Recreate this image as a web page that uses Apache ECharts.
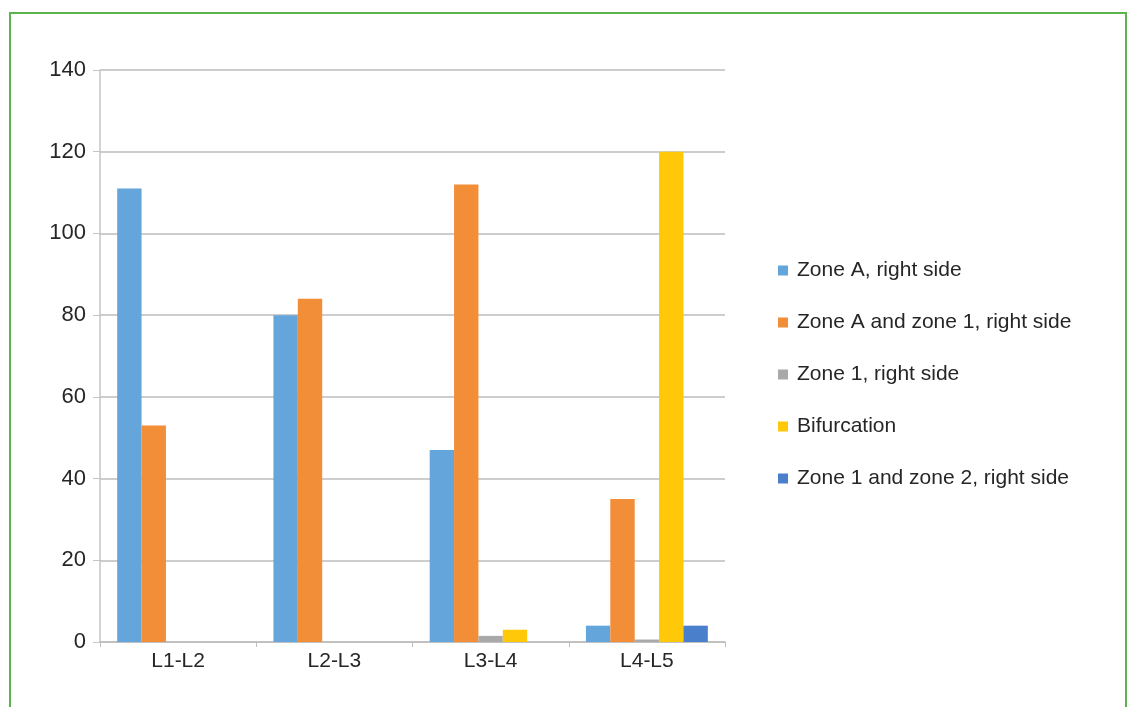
<!DOCTYPE html>
<html>
<head>
<meta charset="utf-8">
<script src="https://cdn.jsdelivr.net/npm/echarts@6/dist/echarts.min.js"></script>
<style>
html,body{margin:0;padding:0;background:#fff;}
#wrap{position:relative;width:1130px;height:707px;overflow:hidden;}
#border{position:absolute;left:9px;top:12px;width:1118px;height:720px;border:2px solid #5cb54c;box-sizing:border-box;}
#chart{position:absolute;left:0;top:0;width:1130px;height:707px;}
</style>
</head>
<body>
<div id="wrap">
<div id="border"></div>
<div id="chart"></div>
</div>
<script>
const categories = ['L1-L2', 'L2-L3', 'L3-L4', 'L4-L5'];
const seriesNames = ['Zone A, right side', 'Zone A and zone 1, right side', 'Zone 1, right side', 'Bifurcation', 'Zone 1 and zone 2, right side'];
const zoneA = [111, 80, 47, 4];
const zoneAand1 = [53, 84, 112, 35];
const zone1 = [0, 0, 1.5, 0.6];
const bifurcation = [0, 0, 3, 120];
const zone1and2 = [0, 0, 0, 4];
const colors = ['#64a6dc', '#f28d38', '#a9a9a9', '#ffc808', '#4a7fcc'];

const seriesData = [zoneA, zoneAand1, zone1, bifurcation, zone1and2];
const font = '"Liberation Sans", Arial, sans-serif';

const chart = echarts.init(document.getElementById('chart'), null, {renderer: 'canvas'});
chart.setOption({
  animation: false,
  backgroundColor: 'transparent',
  color: colors,
  grid: {left: 100, right: 405, top: 70, bottom: 65, containLabel: false},
  legend: {
    orient: 'vertical',
    left: 778,
    top: 260,
    padding: 0,
    icon: 'rect',
    itemWidth: 10,
    itemHeight: 10,
    itemGap: 31,
    data: seriesNames,
    textStyle: {fontFamily: font, fontSize: 21, color: '#262626', lineHeight: 20, padding: [0, 0, 0, 4]}
  },
  xAxis: {
    type: 'category',
    data: categories,
    axisLine: {lineStyle: {color: '#bdbdbd', width: 1.5}},
    axisTick: {show: true, length: 5, lineStyle: {color: '#bdbdbd'}},
    axisLabel: {fontFamily: font, fontSize: 21, color: '#262626', margin: 9}
  },
  yAxis: {
    type: 'value',
    min: 0,
    max: 140,
    interval: 20,
    axisLine: {show: true, lineStyle: {color: '#c4c4c4', width: 1.5}},
    axisTick: {show: true, length: 7, lineStyle: {color: '#c4c4c4'}},
    axisLabel: {fontFamily: font, fontSize: 22, color: '#262626', margin: 14},
    splitLine: {lineStyle: {color: '#bdbdbd', width: 1.5}}
  },
  series: seriesNames.map((name, i) => ({
    name: name,
    type: 'bar',
    data: seriesData[i],
    barGap: '0%',
    barCategoryGap: '22%',
    itemStyle: {color: colors[i]}
  }))
});
</script>
</body>
</html>
